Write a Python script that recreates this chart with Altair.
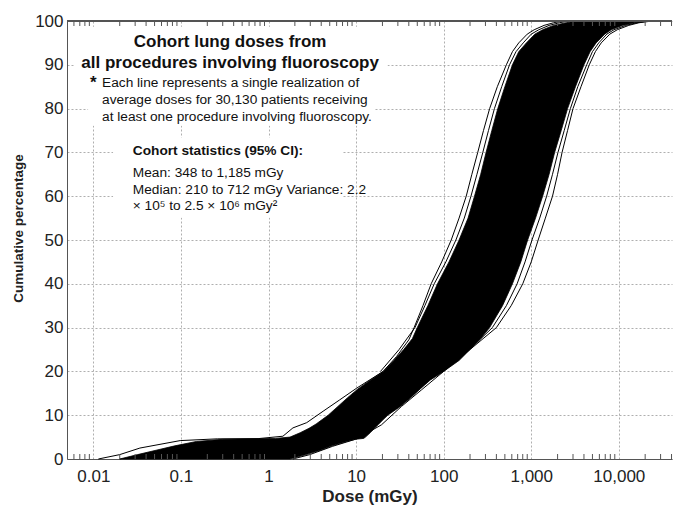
import altair as alt
import pandas as pd

# ---------------- data ----------------
X_TICKS = [0.01, 0.1, 1, 10, 100, 1000, 10000]
X_TICK_LABELS = ["0.01", "0.1", "1", "10", "100", "1,000", "10,000"]
Y_TICKS = [0, 10, 20, 30, 40, 50, 60, 70, 80, 90, 100]
X_MINOR = [0.006, 0.007, 0.008, 0.009,
           0.02, 0.03, 0.04, 0.05, 0.06, 0.07, 0.08, 0.09,
           0.2, 0.3, 0.4, 0.5, 0.6, 0.7, 0.8, 0.9,
           2, 3, 4, 5, 6, 7, 8, 9,
           20, 30, 40, 50, 60, 70, 80, 90,
           200, 300, 400, 500, 600, 700, 800, 900,
           2000, 3000, 4000, 5000, 6000, 7000, 8000, 9000,
           20000, 30000, 40000]

# dense black band formed by the bulk of the realizations (left / right edge per level)
BAND_PCT = [0, 1, 2, 3, 4, 4.5, 4.7, 5, 6, 7, 8, 9, 10, 12, 14, 16, 18, 20, 22.5, 25, 27.5,
            30, 35, 40, 45, 50, 55, 60, 65, 70, 75, 80, 85, 90, 93, 95, 97, 98, 99, 99.6, 100]
BAND_LO = [0.020, 0.032, 0.052, 0.085, 0.15, 0.3, 1.2, 1.76, 2.3, 2.9, 3.5, 4.1, 4.8, 6.2,
           8.0, 10.5, 14.5, 20.4, 27, 35, 44, 50, 66, 85, 115, 150, 190, 225, 265, 305, 355,
           415, 500, 610, 720, 880, 1100, 1350, 1800, 2500, 3300]
BAND_HI = [1.76, 2.7, 3.9, 5.3, 7.8, 9.8, 12.2, 12.8, 14.5, 16.2, 18.2, 20.4, 23, 32, 42,
           54, 70, 100, 150, 200, 265, 335, 470, 610, 760, 910, 1120, 1350, 1600, 1850,
           2200, 2600, 3200, 4000, 4700, 5500, 6900, 8200, 11000, 15000, 21000]

# individual outlying realizations
LINE_A_PCT = [0, 1, 2.5, 4.2, 4.6, 4.65, 5.2, 7.1, 8.3, 10.9, 13.5, 16.2, 20, 23.4, 27.2,
              30, 35, 40, 45, 50, 55, 60, 65, 70, 75, 80, 85, 90, 93, 95, 97, 98, 99,
              99.6, 100]
LINE_A_DOSE = [0.0114, 0.02, 0.034, 0.098, 0.26, 0.76, 1.46, 1.9, 2.73, 4.2, 6.5, 10.2,
               20.4, 29, 40, 46, 58, 72, 95, 122, 150, 181, 210, 245, 285, 335, 410, 520,
               610, 720, 900, 1080, 1400, 1800, 2300]

LINE_A2_PCT = [20, 25, 30, 35, 40, 45, 50, 55, 60, 65, 70, 75, 80, 85, 90, 93, 95, 97, 98,
               99, 99.6, 100]
LINE_A2_DOSE = [19, 31, 47, 61, 78, 106, 138, 172, 205, 240, 280, 325, 380, 460, 565, 670,
                810, 1000, 1220, 1600, 2100, 2700]

LINE_B_PCT = [0, 1, 2.9, 4.6, 7.8, 12, 15.8, 20, 25, 30, 35, 40, 45, 50, 55, 60, 65, 70,
              75, 80, 85, 90, 93, 95, 97, 98, 99, 99.6, 100]
LINE_B_DOSE = [1.9, 2.96, 5.4, 10.2, 19.5, 33, 56, 100, 200, 400, 590, 800, 1000, 1200,
               1450, 1750, 2000, 2250, 2600, 3000, 3700, 4600, 5400, 6300, 7900, 9600,
               13000, 17000, 24000]

LINE_B2_PCT = [25, 30, 35, 40, 45, 50, 55, 60, 65, 70, 75, 80, 85, 90, 93, 95, 97, 98, 99,
               99.6, 100]
LINE_B2_DOSE = [198, 360, 520, 690, 850, 1020, 1250, 1500, 1750, 2020, 2380, 2800, 3400,
                4300, 5000, 5900, 7300, 8800, 12000, 16000, 22500]

# annotation text
TITLE_LINES = ["Cohort lung doses from", "all procedures involving fluoroscopy"]
NOTE_LINES = ["Each line represents a single realization of",
              "average doses for 30,130 patients receiving",
              "at least one procedure involving fluoroscopy."]
STATS_TITLE = "Cohort statistics (95% CI):"
STATS_LINES = ["Mean: 348 to 1,185 mGy",
               "Median: 210 to 712 mGy Variance: 2.2",
               "\u00d7 10\u2075 to 2.5 \u00d7 10\u2076 mGy\u00b2"]

# ---------------- layout (annotation placement, in data units) ----------------
TITLE_X, TITLE_Y = 0.364, [95.1, 90.3]
NOTE_X, NOTE_Y = 0.01257, [85.9, 82.0, 78.1]
STAR_X = 0.01
STATS_X, STATS_TITLE_Y, STATS_Y = 0.0282, 70.3, [65.3, 61.4, 57.8]
BOXES = [  # white backgrounds behind the text blocks
    dict(x=0.006, x2=22.9, y=98.7, y2=88.2),
    dict(x=0.0087, x2=16.3, y=88.2, y2=76.1),
    dict(x=0.0168, x2=7.05, y=73.4, y2=55.1),
]

W, H = 605, 438
FONT = "Liberation Sans"

lines_rows = []
for name, ps, ds in [("A", LINE_A_PCT, LINE_A_DOSE), ("A2", LINE_A2_PCT, LINE_A2_DOSE),
                     ("B", LINE_B_PCT, LINE_B_DOSE), ("B2", LINE_B2_PCT, LINE_B2_DOSE)]:
    for p, d in zip(ps, ds):
        lines_rows.append({"line": name, "pct": p, "dose": d})
df_lines = pd.DataFrame(lines_rows)
df_band = pd.DataFrame({"pct": BAND_PCT, "lo": BAND_LO, "hi": BAND_HI})
df_minor = pd.DataFrame({"dose": X_MINOR})
df_boxes = pd.DataFrame(BOXES)
df_title = pd.DataFrame({"text": TITLE_LINES, "dose": TITLE_X, "pct": TITLE_Y})
df_note = pd.DataFrame({"text": NOTE_LINES, "dose": NOTE_X, "pct": NOTE_Y})
df_star = pd.DataFrame({"text": ["*"], "dose": [STAR_X], "pct": [NOTE_Y[0]]})
df_stats_t = pd.DataFrame({"text": [STATS_TITLE], "dose": [STATS_X], "pct": [STATS_TITLE_Y]})
df_stats = pd.DataFrame({"text": STATS_LINES, "dose": STATS_X, "pct": STATS_Y})

xscale = alt.Scale(type="log", domain=[0.005, 40500], nice=False)
yscale = alt.Scale(domain=[0, 100], nice=False, zero=False)

label_expr = " : ".join(f"datum.value == {v} ? '{l}'" for v, l in zip(X_TICKS, X_TICK_LABELS)) + " : ''"

x_axis = alt.Axis(values=X_TICKS, labelExpr=label_expr, title="Dose (mGy)",
                  grid=True, gridColor="#9a9a9a", gridDash=[2, 2], gridWidth=0.8,
                  ticks=False, tickSize=0, domain=True, domainColor="#555", domainWidth=1,
                  labelFont=FONT, labelFontSize=17, labelColor="#222", labelPadding=9,
                  labelFlush=False, titleFont=FONT, titleFontSize=17, titleFontWeight="bold",
                  titleColor="#222", titlePadding=4)
y_axis = alt.Axis(values=Y_TICKS, title="Cumulative percentage",
                  grid=True, gridColor="#9a9a9a", gridDash=[2, 2], gridWidth=0.8,
                  ticks=False, tickSize=0, domain=True, domainColor="#555", domainWidth=1,
                  labelFont=FONT, labelFontSize=17, labelColor="#222", labelPadding=4,
                  labelFlush=False, titleFont=FONT, titleFontSize=13.5, titleFontWeight="bold",
                  titleColor="#222", titlePadding=9, titleY=207)

X = lambda f: alt.X(f, scale=xscale, axis=x_axis)
Y = lambda f: alt.Y(f, scale=yscale, axis=y_axis)

boxes = alt.Chart(df_boxes).mark_rect(fill="white", strokeWidth=0).encode(
    x=X("x:Q"), x2="x2:Q", y=Y("y:Q"), y2="y2:Q")

band = alt.Chart(df_band).mark_area(orient="horizontal", color="black",
                                    stroke="black", strokeWidth=0.8).encode(
    y=Y("pct:Q"), x=X("lo:Q"), x2="hi:Q")

lines = alt.Chart(df_lines).mark_line(color="black", strokeWidth=1).encode(
    x=X("dose:Q"), y=Y("pct:Q"), detail="line:N", order="pct:Q")

minor_bottom = alt.Chart(df_minor).mark_rule(color="#555", strokeWidth=1).encode(
    x=X("dose:Q"), y=alt.value(H), y2=alt.value(H - 5))
minor_top = alt.Chart(df_minor).mark_rule(color="#555", strokeWidth=1).encode(
    x=X("dose:Q"), y=alt.value(0), y2=alt.value(5))
top_border = alt.Chart(df_minor).mark_rule(color="#555", strokeWidth=1).encode(
    y=alt.value(0), x=alt.value(0), x2=alt.value(W))

title_t = alt.Chart(df_title).mark_text(font=FONT, fontSize=17, fontWeight="bold",
                                        align="center", baseline="middle", color="#111").encode(
    x=X("dose:Q"), y=Y("pct:Q"), text="text:N")
star_t = alt.Chart(df_star).mark_text(font=FONT, fontSize=17, fontWeight="bold",
                                      align="center", baseline="middle", color="#111").encode(
    x=X("dose:Q"), y=Y("pct:Q"), text="text:N")
note_t = alt.Chart(df_note).mark_text(font=FONT, fontSize=13.7, align="left",
                                      baseline="middle", color="#111").encode(
    x=X("dose:Q"), y=Y("pct:Q"), text="text:N")
stats_title_t = alt.Chart(df_stats_t).mark_text(font=FONT, fontSize=13.7, fontWeight="bold",
                                                align="left", baseline="middle", color="#111").encode(
    x=X("dose:Q"), y=Y("pct:Q"), text="text:N")
stats_t = alt.Chart(df_stats).mark_text(font=FONT, fontSize=13.7, align="left",
                                        baseline="middle", color="#111").encode(
    x=X("dose:Q"), y=Y("pct:Q"), text="text:N")

chart = alt.layer(boxes, band, lines, minor_bottom, minor_top, top_border,
                  title_t, star_t, note_t, stats_title_t, stats_t).properties(
    width=W, height=H,
    autosize=alt.AutoSizeParams(type="none"),
    padding={"left": 59, "top": 13, "right": 1, "bottom": 48},
    background="white",
).configure_view(stroke=None)

chart.save("out.html", embed_options={"renderer": "svg", "actions": False})
